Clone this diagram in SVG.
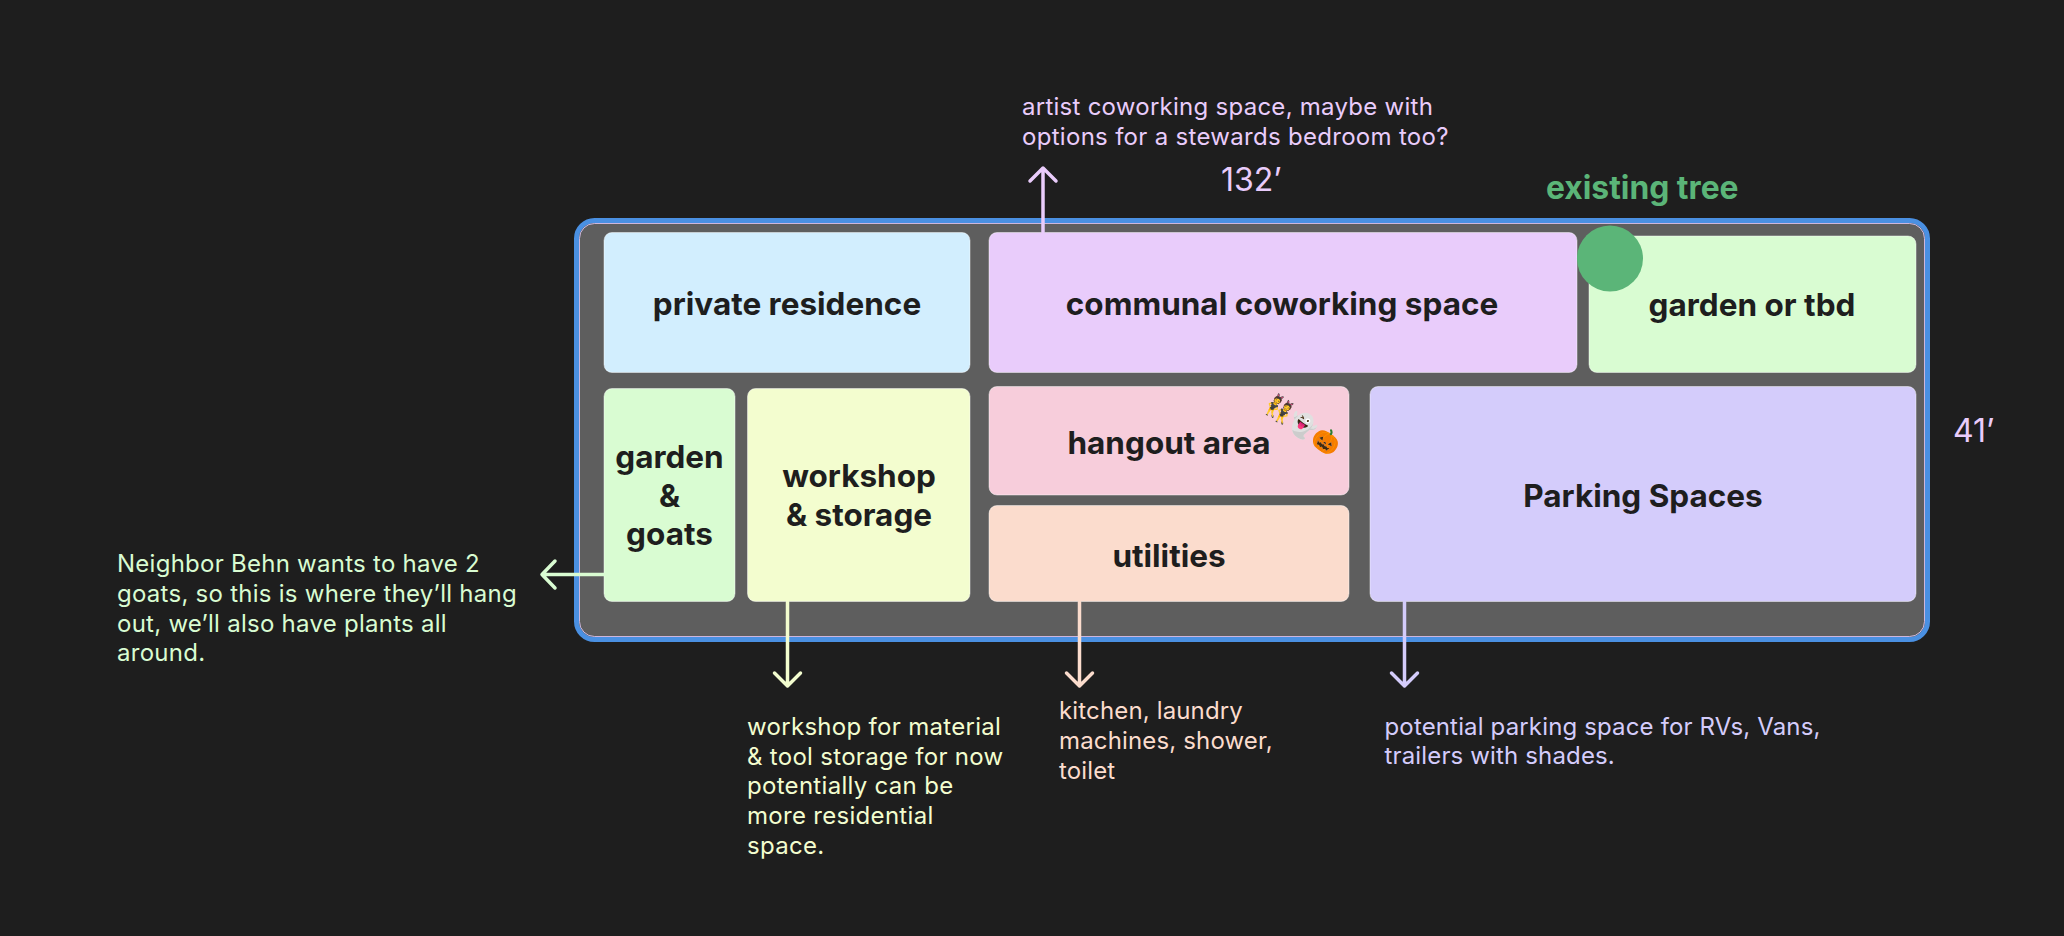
<svg xmlns="http://www.w3.org/2000/svg" width="2064" height="936" viewBox="0 0 2064 936">
<style>
.n{stroke:#fff;stroke-opacity:.45;stroke-width:1}
.l{font:700 31.500px Inter,"Liberation Sans",sans-serif;fill:#1e1e1e;text-anchor:middle}
.c{font:400 24px Inter,"Liberation Sans",sans-serif;letter-spacing:.26px}
.a{fill:none;stroke-width:3.5;stroke-linecap:round;stroke-linejoin:round}
</style>
<rect width="2064" height="936" fill="#1e1e1e"/>
<g id="frame"><rect x="576.500" y="220.500" width="1351" height="419" rx="18" fill="#5e5e5e" stroke="#4a90e2" stroke-width="5"/><rect x="579.500" y="223.500" width="1345" height="413" rx="15" fill="none" stroke="#e9ccfb" stroke-opacity=".8" stroke-width="1"/></g>
<g id="private-residence"><rect class="n" x="604" y="232.500" width="366" height="140" rx="8" fill="#d2eefe"/><text class="l" x="787" y="315">private residence</text></g>
<g id="communal"><rect class="n" x="989" y="232.500" width="588" height="140" rx="8" fill="#e9ccfb"/><text class="l" x="1282" y="315">communal coworking space</text></g>
<g id="garden-tbd"><rect class="n" x="1589" y="236" width="327" height="136.500" rx="8" fill="#d9fcd2"/><text class="l" x="1752" y="316">garden or tbd</text></g>
<g id="tree"><circle cx="1610" cy="258.500" r="33" fill="#5bb578"/><text x="1546" y="199" style="font:700 31.800px Inter,'Liberation Sans',sans-serif;fill:#5bb578">existing tree</text></g>
<g id="garden-goats"><rect class="n" x="604" y="388.500" width="131" height="213" rx="8" fill="#d9fcd2"/><text class="l" x="669.500" y="468">garden</text><text class="l" x="669.500" y="506.500">&amp;</text><text class="l" x="669.500" y="544.500">goats</text></g>
<g id="workshop"><rect class="n" x="747.500" y="388.500" width="222.500" height="213" rx="8" fill="#f3fdcf"/><text class="l" x="859" y="487">workshop</text><text class="l" x="859" y="525.500">&amp; storage</text></g>
<g id="hangout"><rect class="n" x="989" y="386.500" width="360" height="108.500" rx="8" fill="#f7cddb"/><text class="l" x="1169" y="454">hangout area</text><text x="1303" y="433" text-anchor="middle" transform="rotate(35 1303 425)" style="font:23px 'Noto Color Emoji',Inter,sans-serif">👯👻🎃</text></g>
<g id="utilities"><rect class="n" x="989" y="505.500" width="360" height="96" rx="8" fill="#fbdccd"/><text class="l" x="1169" y="567">utilities</text></g>
<g id="parking"><rect class="n" x="1370" y="386.500" width="546" height="215" rx="8" fill="#d4ccfb"/><text class="l" x="1643" y="507">Parking Spaces</text></g>
<g id="connectors">
<path class="a" stroke="#e9ccfb" d="M1043 232V168M1030 181L1043 168L1056 181"/>
<path class="a" stroke="#d9fcd2" d="M604 574.500H542M555 561L542 574.500L555 588"/>
<path class="a" stroke="#f3fdcf" d="M787.500 602V686M774.500 673L787.500 686L800.500 673"/>
<path class="a" stroke="#fbdccd" d="M1079.500 602V686M1066.500 673L1079.500 686L1092.500 673"/>
<path class="a" stroke="#d4ccfb" d="M1404.500 602V686M1391.500 673L1404.500 686L1417.500 673"/>
</g>
<g id="notes" class="c">
<text x="1022" y="115" fill="#e9ccfb">artist coworking space, maybe with</text><text x="1022" y="145" fill="#e9ccfb" style="letter-spacing:.3px">options for a stewards bedroom too?</text>
<text x="1221" y="191" fill="#e9ccfb" style="font-size:32px;letter-spacing:0">132’</text>
<text x="1953" y="442" fill="#e9ccfb" style="font-size:32px;letter-spacing:0">41’</text>
<g fill="#d9fcd2"><text x="117" y="572">Neighbor Behn wants to have 2</text><text x="117" y="602">goats, so this is where they’ll hang</text><text x="117" y="631.500">out, we’ll also have plants all</text><text x="117" y="661">around.</text></g>
<g fill="#f3fdcf" style="letter-spacing:.3px"><text x="747" y="734.500">workshop for material</text><text x="747" y="764.500">&amp; tool storage for now</text><text x="747" y="794">potentially can be</text><text x="747" y="823.500">more residential</text><text x="747" y="853.500">space.</text></g>
<g fill="#fbdccd" style="letter-spacing:.15px"><text x="1059" y="719">kitchen, laundry</text><text x="1059" y="749">machines, shower,</text><text x="1059" y="779">toilet</text></g>
<g fill="#d4ccfb" style="letter-spacing:.15px"><text x="1384.500" y="734.500">potential parking space for RVs, Vans,</text><text x="1384.500" y="764">trailers with shades.</text></g>
</g>
</svg>
